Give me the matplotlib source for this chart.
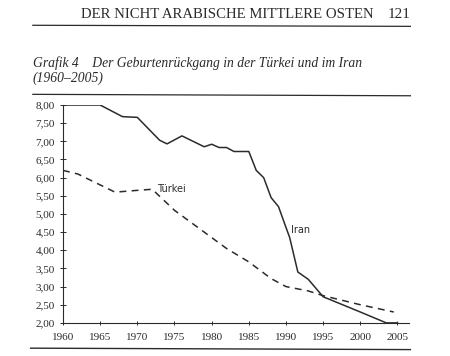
import matplotlib
matplotlib.use("Agg")
import matplotlib.pyplot as plt
from matplotlib.lines import Line2D

# Geburtenrate (Kinder je Frau)
iran_years = [1960, 1965, 1968, 1970, 1973, 1974, 1976, 1979, 1980, 1981, 1982, 1983,
              1985, 1986, 1987, 1988, 1989, 1990, 1990.5, 1991.6, 1993, 1995, 2000, 2003.5, 2005]
iran_vals = [8.0, 8.0, 7.68, 7.66, 7.03, 6.93, 7.15, 6.85, 6.92, 6.83, 6.83, 6.72,
             6.72, 6.2, 6.0, 5.45, 5.2, 4.63, 4.35, 3.4, 3.2, 2.72, 2.3, 2.0, 2.0]
turk_years = [1960, 1962, 1965, 1967, 1970, 1972, 1975, 1978, 1980, 1982, 1985,
              1988, 1990, 1993, 1995, 2000, 2004.5]
turk_vals = [6.2, 6.1, 5.8, 5.6, 5.65, 5.68, 5.1, 4.65, 4.35, 4.05, 3.68,
             3.22, 3.0, 2.88, 2.75, 2.5, 2.3]

x_ticks = [1960, 1965, 1970, 1975, 1980, 1985, 1990, 1995, 2000, 2005]
y_ticks = [2.0, 2.5, 3.0, 3.5, 4.0, 4.5, 5.0, 5.5, 6.0, 6.5, 7.0, 7.5, 8.0]
y_labels = [f"{v:.2f}".replace(".", ",") for v in y_ticks]

INK = "#2b2b2b"
SERIF = ["Liberation Serif", "DejaVu Serif"]
plt.rcParams["font.family"] = SERIF

fig = plt.figure(figsize=(4.5, 3.56), dpi=100)
fig.patch.set_facecolor("white")

# Kopfzeile der Buchseite
fig.text(0.83, 0.96, "DER NICHT ARABISCHE MITTLERE OSTEN", ha="right", va="center",
         fontsize=10.6, color=INK)
fig.text(0.912, 0.96, "121", ha="right", va="center", fontsize=11, color=INK)
fig.add_artist(Line2D([0.073, 0.912], [0.929, 0.926], color=INK, lw=0.9))

fig.text(0.073, 0.823, "Grafik 4    Der Geburtenrückgang in der Türkei und im Iran",
         ha="left", va="center", fontsize=9.8, style="italic", color=INK)
fig.text(0.073, 0.781, "(1960\u20132005)", ha="left", va="center", fontsize=9.8,
         style="italic", color=INK)
fig.add_artist(Line2D([0.073, 0.912], [0.735, 0.731], color=INK, lw=0.9))
fig.add_artist(Line2D([0.068, 0.912], [0.022, 0.018], color=INK, lw=1.0))

ax = fig.add_axes([0.14, 0.093, 0.768, 0.612])
ax.plot(iran_years, iran_vals, color=INK, lw=1.1)
ax.plot(turk_years, turk_vals, color=INK, lw=1.1, linestyle=(0, (4.5, 3.5)))
ax.text(1972.6, 5.68, "Türkei", fontsize=7, color=INK, ha="left", va="center",
        family=["DejaVu Sans"])
ax.text(1990.7, 4.55, "Iran", fontsize=7, color=INK, ha="left", va="center",
        family=["DejaVu Sans"])

ax.set_xlim(1960, 2006.5)
ax.set_ylim(2.0, 8.0)
ax.set_xticks(x_ticks)
ax.set_yticks(y_ticks)
ax.set_yticklabels(y_labels)
for s in ("top", "right"):
    ax.spines[s].set_visible(False)
for s in ("left", "bottom"):
    ax.spines[s].set_color(INK)
    ax.spines[s].set_linewidth(0.8)
ax.spines["left"].set_bounds(2.0, 8.0)
ax.tick_params(axis="y", direction="inout", length=4, width=0.7, colors=INK,
               labelsize=8, pad=4)
ax.tick_params(axis="x", direction="inout", length=3, width=0.7, colors=INK,
               labelsize=8, pad=6)
ax.set_facecolor("white")

fig.savefig("out.png", dpi=100, facecolor="white")
